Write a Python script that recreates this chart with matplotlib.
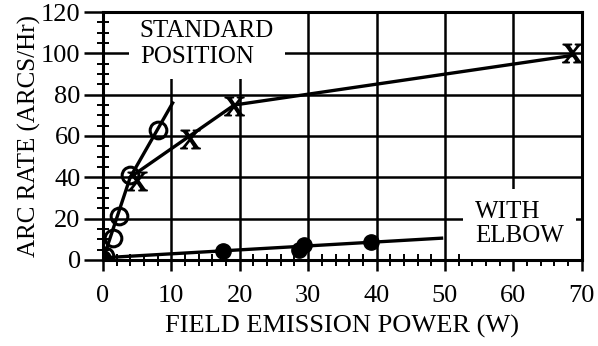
import matplotlib
matplotlib.use("Agg")
import matplotlib.pyplot as plt
from matplotlib.ticker import MultipleLocator

plt.rcParams['font.family'] = ['Liberation Serif', 'DejaVu Serif']
plt.rcParams['mathtext.fontset'] = 'stix'

# standard position, open circles
std_o_x = [0.3, 1.5, 2.4, 4.0, 8.0]
std_o_y = [2.0, 10.5, 21.0, 41.0, 63.0]
std_o_fit_x = [0.0, 4.0, 10.2]
std_o_fit_y = [0.0, 40.0, 76.0]

# standard position, X marks
std_x_x = [5.0, 12.7, 19.2, 68.6]
std_x_y = [38.0, 58.5, 74.5, 100.0]
std_x_fit_x = [4.0, 19.2, 68.6]
std_x_fit_y = [40.0, 75.0, 99.0]

# with elbow, filled circles
elb_x = [0.0, 17.5, 28.6, 29.4, 39.2]
elb_y = [1.0, 4.2, 5.0, 7.3, 8.5]
elb_fit_x = [0.0, 49.5]
elb_fit_y = [1.0, 10.5]

fig = plt.figure(figsize=(5.98, 3.46), dpi=100)
ax = fig.add_axes([0.172, 0.249, 0.801, 0.716])

ax.plot(std_o_fit_x, std_o_fit_y, color='black', lw=2.4, zorder=3)
ax.plot(std_x_fit_x, std_x_fit_y, color='black', lw=2.4, zorder=3)
ax.plot(elb_fit_x, elb_fit_y, color='black', lw=2.4, zorder=3)

ax.plot(std_o_x, std_o_y, ls='none', marker='o', ms=12, mfc='none', mec='black', mew=2.2, zorder=4)
ax.plot(std_x_x, std_x_y, ls='none', marker=r'$\mathrm{X}$', ms=14, color='black', zorder=4)
ax.plot(elb_x, elb_y, ls='none', marker='o', ms=11, color='black', zorder=4)

ax.set_xlim(0, 70)
ax.set_ylim(0, 120)
ax.xaxis.set_major_locator(MultipleLocator(10))
ax.xaxis.set_minor_locator(MultipleLocator(2))
ax.yaxis.set_major_locator(MultipleLocator(20))
ax.yaxis.set_minor_locator(MultipleLocator(5))
ax.grid(True, which='major', color='black', lw=1.8, zorder=1)
ax.set_axisbelow(True)
ax.tick_params(which='major', direction='out', width=1.8, labelsize=19)
ax.tick_params(axis='x', which='major', length=8, pad=10)
ax.tick_params(axis='y', which='major', length=14, pad=2)
ax.tick_params(which='minor', direction='inout', length=9, width=1.4)
for s in ax.spines.values():
    s.set_linewidth(2.2)

ax.set_xlabel('FIELD EMISSION POWER (W)', fontsize=19, labelpad=6)
ax.set_ylabel('ARC RATE (ARCS/Hr)', fontsize=18, labelpad=0)

ax.text(5.4, 116, 'STANDARD\nPOSITION', fontsize=18, va='top', ha='left',
        linespacing=1.2, zorder=2,
        bbox=dict(facecolor='white', edgecolor='none', pad=8))
ax.text(54.4, 28.5, 'WITH\nELBOW', fontsize=18, va='top', ha='left',
        linespacing=1.1, zorder=2,
        bbox=dict(facecolor='white', edgecolor='none', pad=9))

fig.savefig('out.png', dpi=100)
